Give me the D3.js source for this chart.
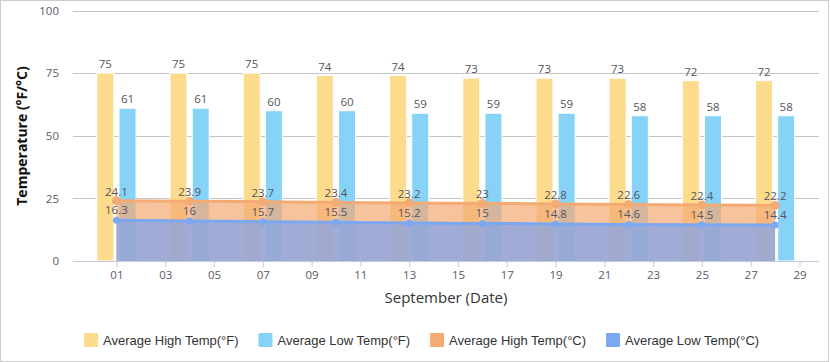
<!DOCTYPE html>
<html>
<head>
<meta charset="utf-8">
<script src="https://cdn.jsdelivr.net/npm/d3@7/dist/d3.min.js"></script>
<style>
  body { margin: 0; background: #fff; }
  svg { display: block; }
</style>
</head>
<body>
<svg id="chart" width="830" height="362"></svg>
<script>
// september climate, one point every 3 days
const days = [1, 4, 7, 10, 13, 16, 19, 22, 25, 28];
const highF = [75, 75, 75, 74, 74, 73, 73, 73, 72, 72];
const lowF = [61, 61, 60, 60, 59, 59, 59, 58, 58, 58];
const highC = [24.1, 23.9, 23.7, 23.4, 23.2, 23, 22.8, 22.6, 22.4, 22.2];
const lowC = [16.3, 16, 15.7, 15.5, 15.2, 15, 14.8, 14.6, 14.5, 14.4];
const xTicks = [1, 3, 5, 7, 9, 11, 13, 15, 17, 19, 21, 23, 25, 27, 29];
const yTicks = [0, 25, 50, 75, 100];
const seriesNames = ["Average High Temp(°F)", "Average Low Temp(°F)", "Average High Temp(°C)", "Average Low Temp(°C)"];

const colors = {
    highF: "#fddb8c",
    lowF: "#87d3f8",
    highC: "#f3aa73",
    lowC: "#7ca7f1"
};

const svg = d3.select("#chart");
const tickFont = "'Open Sans', 'Noto Sans', sans-serif";

// frame
svg.append("rect")
    .attr("x", 0.5).attr("y", 0.5)
    .attr("width", 828).attr("height", 361)
    .attr("fill", "#fff")
    .attr("stroke", "#cccccc");

const xScale = d3.scaleLinear().domain([-0.78, 29.8]).range([73, 819]);
const yScale = d3.scaleLinear().domain([0, 100]).range([261, 10.5]);

const data = days.map((d, i) => ({
    day: d, hf: highF[i], lf: lowF[i], hc: highC[i], lc: lowC[i]
}));

// horizontal grid
svg.append("g")
    .selectAll("line")
    .data(yTicks.filter(t => t > 0))
    .join("line")
    .attr("x1", 73).attr("x2", 819)
    .attr("y1", d => Math.round(yScale(d)) + 0.5)
    .attr("y2", d => Math.round(yScale(d)) + 0.5)
    .attr("stroke", "#c4c4c4");

// y axis labels (no domain line)
const yAxis = d3.axisLeft(yScale).tickValues(yTicks).tickSize(0).tickPadding(14);
const yG = svg.append("g").attr("transform", "translate(73,0)").call(yAxis);
yG.select(".domain").remove();
yG.selectAll("text")
    .attr("font-family", tickFont)
    .attr("font-size", 11.5)
    .attr("fill", "#5a5a66");

// bars
const barW = 17, barGap = 2.6;
svg.append("g")
    .selectAll("rect")
    .data(data)
    .join("rect")
    .attr("x", d => xScale(d.day) - barGap - barW)
    .attr("y", d => yScale(d.hf))
    .attr("width", barW)
    .attr("height", d => yScale(0) - yScale(d.hf))
    .attr("fill", colors.highF)
    .attr("stroke", "#fff").attr("stroke-width", 1);

svg.append("g")
    .selectAll("rect")
    .data(data)
    .join("rect")
    .attr("x", d => xScale(d.day) + barGap)
    .attr("y", d => yScale(d.lf))
    .attr("width", barW)
    .attr("height", d => yScale(0) - yScale(d.lf))
    .attr("fill", colors.lowF)
    .attr("stroke", "#fff").attr("stroke-width", 1);

// areas
const areaHigh = d3.area().x(d => xScale(d.day)).y0(yScale(0)).y1(d => yScale(d.hc));
const areaLow = d3.area().x(d => xScale(d.day)).y0(yScale(0)).y1(d => yScale(d.lc));
const lineHigh = d3.line().x(d => xScale(d.day)).y(d => yScale(d.hc));
const lineLow = d3.line().x(d => xScale(d.day)).y(d => yScale(d.lc));

svg.append("path").datum(data)
    .attr("d", areaHigh)
    .attr("fill", colors.highC).attr("fill-opacity", 0.7);
svg.append("path").datum(data)
    .attr("d", lineHigh)
    .attr("fill", "none").attr("stroke", colors.highC).attr("stroke-width", 3);
svg.append("g").selectAll("circle").data(data).join("circle")
    .attr("cx", d => xScale(d.day)).attr("cy", d => yScale(d.hc))
    .attr("r", 4.5).attr("fill", colors.highC);

svg.append("path").datum(data)
    .attr("d", areaLow)
    .attr("fill", "#7fa4ec").attr("fill-opacity", 0.72);
svg.append("path").datum(data)
    .attr("d", lineLow)
    .attr("fill", "none").attr("stroke", colors.lowC).attr("stroke-width", 3);
svg.append("g").selectAll("circle").data(data).join("circle")
    .attr("cx", d => xScale(d.day)).attr("cy", d => yScale(d.lc))
    .attr("r", 3.5).attr("fill", colors.lowC);

// x axis
const xAxis = d3.axisBottom(xScale)
    .tickValues(xTicks)
    .tickSize(6)
    .tickPadding(4)
    .tickFormat(d3.format("02d"));
const xG = svg.append("g").attr("transform", `translate(0,${yScale(0)})`).call(xAxis);
xG.select(".domain").remove();
xG.append("line")
    .attr("x1", 73).attr("x2", 819).attr("y1", 0.5).attr("y2", 0.5)
    .attr("stroke", "#c2cbdc");
xG.selectAll(".tick line").attr("stroke", "#c2cbdc");
xG.selectAll("text")
    .attr("font-family", tickFont)
    .attr("font-size", 11.5)
    .attr("fill", "#5a5a66");

// value labels
const labelStyle = sel => sel
    .attr("font-family", tickFont)
    .attr("font-size", 11.5)
    .attr("fill", "#555560")
    .attr("text-anchor", "middle");

const labels = svg.append("g");
labels.selectAll(".lhf").data(data).join("text")
    .attr("x", d => xScale(d.day) - barGap - barW / 2)
    .attr("y", d => yScale(d.hf) - 5)
    .text(d => d.hf).call(labelStyle);
labels.selectAll(".llf").data(data).join("text")
    .attr("x", d => xScale(d.day) + barGap + barW / 2)
    .attr("y", d => yScale(d.lf) - 5)
    .text(d => d.lf).call(labelStyle);
labels.selectAll(".lhc").data(data).join("text")
    .attr("x", d => xScale(d.day))
    .attr("y", d => yScale(d.hc) - 5)
    .text(d => d.hc).call(labelStyle);
labels.selectAll(".llc").data(data).join("text")
    .attr("x", d => xScale(d.day))
    .attr("y", d => yScale(d.lc) - 6)
    .text(d => d.lc).call(labelStyle);

// axis titles
svg.append("text")
    .attr("transform", "translate(27,136) rotate(-90)")
    .attr("text-anchor", "middle")
    .attr("font-family", tickFont)
    .attr("font-size", 14)
    .attr("font-weight", "bold")
    .attr("fill", "#111")
    .text("Temperature (°F/°C)");

svg.append("text")
    .attr("x", 446).attr("y", 303)
    .attr("text-anchor", "middle")
    .attr("font-family", tickFont)
    .attr("font-size", 15)
    .attr("fill", "#333")
    .text("September (Date)");

// legend
const legendColors = [colors.highF, colors.lowF, colors.highC, colors.lowC];
const legend = svg.append("g");
let lx = 84;
seriesNames.forEach((name, i) => {
    legend.append("rect")
        .attr("x", lx).attr("y", 333)
        .attr("width", 14).attr("height", 14)
        .attr("fill", legendColors[i]);
    const t = legend.append("text")
        .attr("x", lx + 19).attr("y", 345)
        .attr("font-family", "'Liberation Sans', Arial, sans-serif")
        .attr("font-size", 13)
        .attr("fill", "#333")
        .text(name);
    lx += 19 + t.node().getComputedTextLength() + 20;
});
</script>
</body>
</html>
